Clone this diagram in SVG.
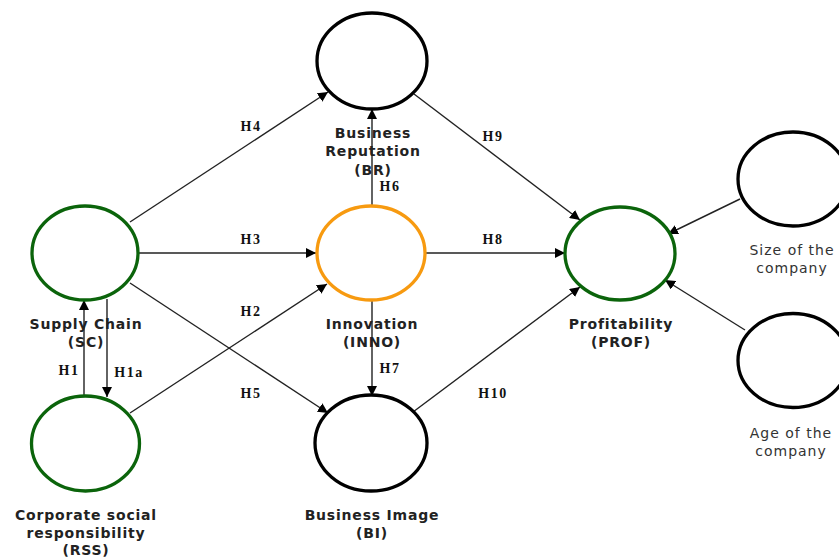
<svg xmlns="http://www.w3.org/2000/svg" width="839" height="557" viewBox="0 0 839 557">
<style>
.n{fill:#fff;stroke-width:3.3}
.g{stroke:#0b640b}
.o{stroke:#f79a10}
.k{stroke:#000}
.lbl{font-family:"DejaVu Sans",Verdana,sans-serif;font-weight:bold;font-size:14px;letter-spacing:0.8px;fill:#222;text-anchor:middle}
.reg{font-family:"DejaVu Sans",Verdana,sans-serif;font-size:14px;letter-spacing:1px;fill:#333;text-anchor:middle}
.h{font-family:"Liberation Serif","Times New Roman",serif;font-weight:bold;font-size:14px;letter-spacing:1.5px;fill:#111;text-anchor:middle}
.c line{stroke:#222;stroke-width:1.4;marker-end:url(#a)}
</style>
<defs>
<marker id="a" viewBox="0 0 10 10" refX="10" refY="5" markerWidth="10" markerHeight="10" markerUnits="userSpaceOnUse" orient="auto">
<path d="M0,0 L10,5 L0,10 z" fill="#000"/>
</marker>
</defs>
<rect width="839" height="557" fill="#fff"/>
<g id="connectors" class="c">
<line x1="130" y1="222" x2="328" y2="92"/>
<line x1="414" y1="94" x2="580" y2="220"/>
<line x1="372" y1="206" x2="372" y2="109"/>
<line x1="139" y1="253" x2="316" y2="253"/>
<line x1="426" y1="253" x2="565" y2="253"/>
<line x1="130" y1="413" x2="327" y2="284"/>
<line x1="130" y1="283" x2="328" y2="413"/>
<line x1="372" y1="300" x2="372" y2="396"/>
<line x1="413" y1="412" x2="580" y2="287"/>
<line x1="84" y1="396" x2="84" y2="300"/>
<line x1="107" y1="299" x2="107" y2="397"/>
<line x1="740" y1="199" x2="668" y2="234"/>
<line x1="745" y1="330" x2="665" y2="280"/>
</g>
<g id="hyp">
<text class="h" x="251" y="131">H4</text>
<text class="h" x="493" y="141">H9</text>
<text class="h" x="390" y="191">H6</text>
<text class="h" x="251" y="244">H3</text>
<text class="h" x="493" y="244">H8</text>
<text class="h" x="251" y="316">H2</text>
<text class="h" x="69" y="375">H1</text>
<text class="h" x="129" y="377">H1a</text>
<text class="h" x="251" y="398">H5</text>
<text class="h" x="390" y="373">H7</text>
<text class="h" x="493" y="398">H10</text>
</g>
<g id="SC">
<ellipse class="n g" cx="85" cy="253" rx="53" ry="47"/>
<text class="lbl" x="86" y="329">Supply Chain</text>
<text class="lbl" x="86" y="347">(SC)</text>
</g>
<g id="RSS">
<ellipse class="n g" cx="85.5" cy="443.5" rx="54" ry="47.5"/>
<text class="lbl" x="86" y="520">Corporate social</text>
<text class="lbl" x="86" y="538">responsibility</text>
<text class="lbl" x="86" y="555">(RSS)</text>
</g>
<g id="BR">
<ellipse class="n k" cx="372" cy="61" rx="55" ry="48"/>
<text class="lbl" x="373" y="138">Business</text>
<text class="lbl" x="373" y="156">Reputation</text>
<text class="lbl" x="373" y="175">(BR)</text>
</g>
<g id="INNO">
<ellipse class="n o" cx="371" cy="253" rx="54" ry="47"/>
<text class="lbl" x="372" y="329">Innovation</text>
<text class="lbl" x="372" y="347">(INNO)</text>
</g>
<g id="BI">
<ellipse class="n k" cx="371" cy="443" rx="56" ry="48"/>
<text class="lbl" x="372" y="520">Business Image</text>
<text class="lbl" x="372" y="538">(BI)</text>
</g>
<g id="PROF">
<ellipse class="n g" cx="620" cy="253.5" rx="55" ry="46.5"/>
<text class="lbl" x="621" y="329">Profitability</text>
<text class="lbl" x="621" y="347">(PROF)</text>
</g>
<g id="SIZE">
<ellipse class="n k" cx="793" cy="179" rx="55" ry="47"/>
<text class="reg" x="792" y="255">Size of the</text>
<text class="reg" x="792" y="273">company</text>
</g>
<g id="AGE">
<ellipse class="n k" cx="793" cy="360.5" rx="55" ry="47"/>
<text class="reg" x="791" y="438">Age of the</text>
<text class="reg" x="791" y="456">company</text>
</g>
</svg>
